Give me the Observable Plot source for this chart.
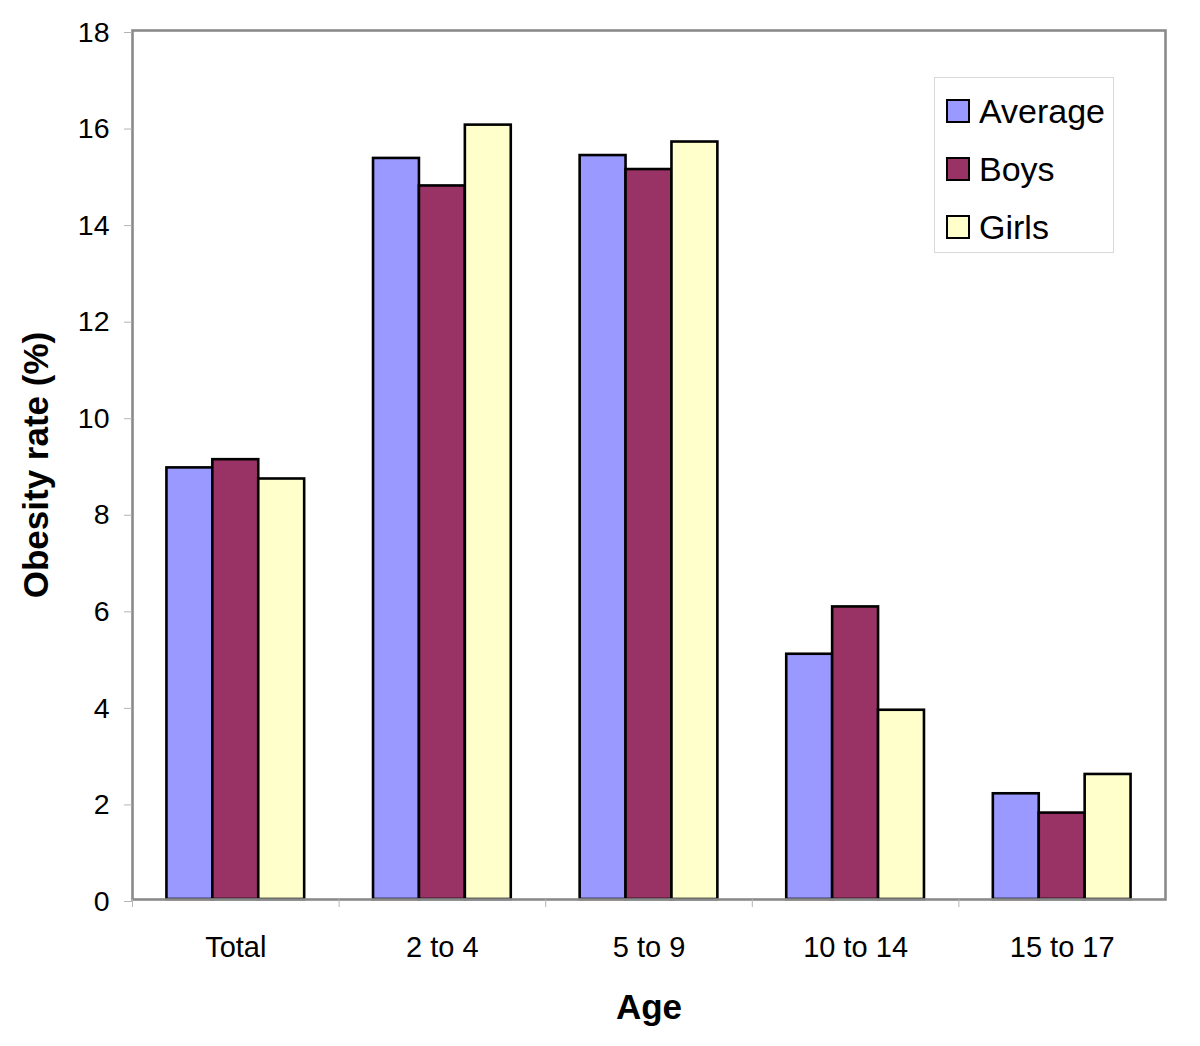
<!DOCTYPE html>
<html>
<head>
<meta charset="utf-8">
<script src="https://cdn.jsdelivr.net/npm/d3@7"></script>
<script src="https://cdn.jsdelivr.net/npm/@observablehq/plot@0.6"></script>
<style>
  body { margin: 0; background: #fff; font-family: "Liberation Sans", Arial, sans-serif; }
  #chart { position: relative; width: 1200px; height: 1046px; }
  #legend { position: absolute; left: 934px; top: 77px; width: 180px; height: 176px; box-sizing: border-box;
            border: 1px solid #d9d9d9; background: #fff; padding: 4px 0 0 12px; }
  #legend .lg-swatches { margin: 0 !important; font-size: 34px !important; color: #000;
            font-family: "Liberation Sans", Arial, sans-serif !important; }
  #legend .lg-swatch { height: 58px; display: flex; align-items: center; padding: 0 !important; margin: 0 !important; }
  #legend .lg-swatch svg { margin-right: 10px !important; overflow: visible; }
  #legend .lg-swatch svg rect { stroke: #000; stroke-width: 2px; }
  [aria-label="y-axis label"], [aria-label="fx-axis label"] { font-size: 35px; font-weight: bold; }
</style>
</head>
<body>
<div id="chart"><div id="legend"></div></div>
<script>
const categories = ["Total", "2 to 4", "5 to 9", "10 to 14", "15 to 17"];
const series = ["Average", "Boys", "Girls"];
const average = [8.94, 15.35, 15.41, 5.08, 2.19];
const boys = [9.11, 14.78, 15.12, 6.06, 1.79];
const girls = [8.71, 16.04, 15.69, 3.92, 2.59];
const colors = ["#9999ff", "#993366", "#ffffcc"];
const yTicks = [0, 2, 4, 6, 8, 10, 12, 14, 16, 18];

const seriesValues = [average, boys, girls];
const data = categories.flatMap((c, i) => series.map((s, j) => ({category: c, series: s, value: seriesValues[j][i]})));

const W = 1200, H = 1046, mL = 132, mR = 35, mT = 30, mB = 147;
const halfStep = (W - mL - mR) / categories.length / 2;
const font = "'Liberation Sans', Arial, sans-serif";

const plot = Plot.plot({
  width: W, height: H,
  marginLeft: mL, marginRight: mR, marginTop: mT, marginBottom: mB,
  style: {fontFamily: font, fontSize: "28px", background: "#fff", color: "#000", overflow: "visible"},
  fx: {domain: categories, padding: 0, round: false, label: "Age"},
  x: {domain: series, paddingInner: 0, paddingOuter: 0.75, round: false, axis: null},
  y: {domain: [0, 18], label: "Obesity rate (%)"},
  color: {domain: series, range: colors},
  marks: [
    Plot.barY(data, {fx: "category", x: "series", y: "value", fill: "series", stroke: "#000", strokeWidth: 2.6}),
    Plot.frame({stroke: "#8a8a8a", strokeWidth: 2.6, facet: "super"}),
    Plot.axisY({ticks: yTicks, tickSize: 8, tickPadding: 15, stroke: "#b4b4b4", fill: "#000", fontSize: 28.5, dy: 2,
                label: "Obesity rate (%)", labelAnchor: "center", labelOffset: 109, labelArrow: "none"}),
    Plot.axisFx({anchor: "bottom", tickSize: 8, stroke: "#b4b4b4", text: null, dx: -halfStep, label: null}),
    Plot.axisFx({anchor: "bottom", tickSize: 0, tickPadding: 37, fontSize: 29, fill: "#000",
                 label: "Age", labelAnchor: "center", labelOffset: 119})
  ]
});
document.getElementById("chart").prepend(plot);

const legend = plot.legend("color", {columns: 1, swatchSize: 22, className: "lg"});
document.getElementById("legend").append(legend);
</script>
</body>
</html>
